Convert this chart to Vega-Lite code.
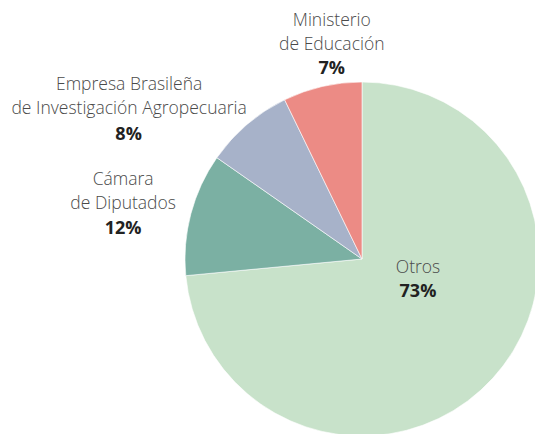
{
  "$schema": "https://vega.github.io/schema/vega-lite/v6.json",
  "width": 346,
  "height": 350,
  "autosize": {"type": "none"},
  "padding": {"left": 189, "top": 84, "right": 0, "bottom": 0},
  "background": "white",
  "config": {"view": {"stroke": null}},
  "data": {
    "values": [
      {"cat": "Otros", "name": "Otros", "pct": "73%", "value": 73.5, "order": 1},
      {"cat": "Cámara", "name": "Cámara\nde Diputados", "pct": "12%", "value": 11.2, "order": 2},
      {"cat": "Empresa", "name": "Empresa Brasileña\nde Investigación Agropecuaria", "pct": "8%", "value": 8.1, "order": 3},
      {"cat": "Ministerio", "name": "Ministerio\nde Educación", "pct": "7%", "value": 7.2, "order": 4}
    ]
  },
  "encoding": {
    "theta": {"field": "value", "type": "quantitative", "stack": true},
    "order": {"field": "order", "type": "quantitative"}
  },
  "layer": [
    {
      "mark": {"type": "arc", "outerRadius": 177, "stroke": "white", "strokeWidth": 0.6},
      "encoding": {
        "color": {
          "field": "cat",
          "type": "nominal",
          "scale": {
            "domain": ["Otros", "Cámara", "Empresa", "Ministerio"],
            "range": ["#c8e2ca", "#7bb0a3", "#a7b2c9", "#ec8b85"]
          },
          "legend": null
        }
      }
    },
    {
      "mark": {
        "type": "text",
        "lineBreak": "\n",
        "font": "Open Sans",
        "fontWeight": 300,
        "fontSize": 17.5,
        "lineHeight": 24,
        "color": "#4a4a4a",
        "align": "center",
        "baseline": "middle",
        "radius": {"expr": "datum.cat==='Otros'?50:datum.cat==='Cámara'?247:datum.cat==='Empresa'?200:215"},
        "dx": {"expr": "datum.cat==='Otros'?19:datum.cat==='Cámara'?0:datum.cat==='Empresa'?-103:18"},
        "dy": {"expr": "datum.cat==='Otros'?-25:datum.cat==='Cámara'?-16:datum.cat==='Empresa'?-22:-28.5"}
      },
      "encoding": {"text": {"field": "name"}}
    },
    {
      "mark": {
        "type": "text",
        "font": "Open Sans",
        "fontWeight": "bold",
        "fontSize": 18,
        "color": "#222222",
        "align": "center",
        "baseline": "middle",
        "radius": {"expr": "datum.cat==='Otros'?50:datum.cat==='Cámara'?247:datum.cat==='Empresa'?200:215"},
        "dx": {"expr": "datum.cat==='Otros'?19:datum.cat==='Cámara'?0:datum.cat==='Empresa'?-103.5:18"},
        "dy": {"expr": "datum.cat==='Otros'?-0.5:datum.cat==='Cámara'?32.5:datum.cat==='Empresa'?28:20"}
      },
      "encoding": {"text": {"field": "pct"}}
    }
  ]
}
